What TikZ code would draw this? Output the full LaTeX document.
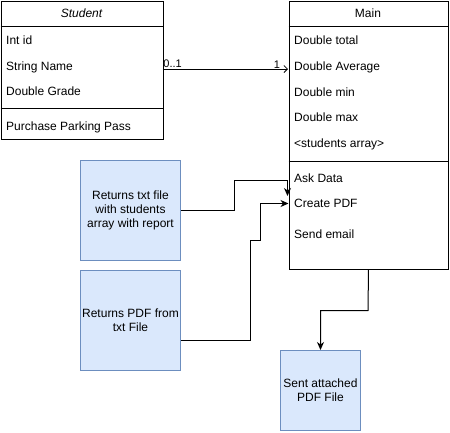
\documentclass[tikz,border=0pt]{standalone}
\usepackage{fontspec}
\setmainfont{Liberation Sans}
\usetikzlibrary{arrows.meta}
\definecolor{notefill}{HTML}{DAE8FC}
\definecolor{noteborder}{HTML}{6C8EBF}
\begin{document}
\begin{tikzpicture}[x=1pt,y=-1pt,
  classbox/.style={draw=black, line width=1pt, inner sep=0pt, anchor=north west},
  note/.style={draw=noteborder, fill=notefill, line width=1pt, inner sep=0pt,
    minimum width=100pt, minimum height=100pt, align=center,
    font=\fontsize{12}{14}\selectfont},
  attr/.style={anchor=base west, inner sep=0pt, font=\fontsize{12}{14}\selectfont},
  title/.style={inner sep=0pt, font=\fontsize{12}{14}\selectfont},
  mult/.style={inner sep=0.5pt, font=\fontsize{11}{13}\selectfont},
  rule/.style={line width=1pt},
  wire/.style={line width=1pt, -{Stealth[length=8pt,width=7pt,inset=2.5pt]}},
  assoc/.style={line width=0.8pt, -{Straight Barb[length=3.5pt,width=7pt]}}]
\useasboundingbox (0,0) rectangle (450,432);

% Student class
\node[classbox, minimum width=162pt, minimum height=138pt] (student) at (0.5,0.5) {};
\draw[rule] (0.5,26) -- (162.5,26);
\draw[rule] (0.5,108) -- (162.5,108);
\node[title] (stitle) at (81.5,13.5) {\itshape Student};
\node[attr] (sid) at (6,44.5) {Int id};
\node[attr] (sname) at (6,70.3) {String Name};
\node[attr] (sgrade) at (6,95.8) {Double Grade};
\node[attr] (spark) at (6,130.5) {Purchase Parking Pass};

% Main class
\node[classbox, minimum width=159pt, minimum height=268pt] (main) at (288.5,0.5) {};
\draw[rule] (288.5,26) -- (447.5,26);
\draw[rule] (288.5,161) -- (447.5,161);
\node[title] (mtitle) at (368,13.5) {Main};
\node[attr] (mtotal) at (294,44.5) {Double total};
\node[attr] (mavg) at (294,70.3) {Double Average};
\node[attr] (mmin) at (294,96) {Double min};
\node[attr] (mmax) at (294,121.5) {Double max};
\node[attr] (marr) at (294,147.5) {<students array>};
\node[attr] (mask) at (294,182) {Ask Data};
\node[attr] (mpdf) at (294,207.5) {Create PDF};
\node[attr] (mmail) at (294,238) {Send email};

% Notes
\node[note] (b1) at (130.5,210.5) {Returns txt file\\with students\\array with report};
\node[note] (b2) at (130.5,320.5) {Returns PDF from\\txt File};
\node[note, minimum width=80pt, minimum height=80pt] (b3) at (320.5,390.5) {Sent attached\\PDF File};

% Association Student -> Main
\coordinate (sa) at (162.5,69);
\coordinate (ma) at (288,69);
\draw[assoc] (sa) -- (ma)
  node[mult, pos=0, anchor=south west] {0..1}
  node[mult, pos=1, anchor=south east, xshift=-7pt] {1};

% Note connectors
\coordinate (askin) at (287.5,196);
\draw[wire] (b1.east) -- (234,210.5) -- (234,180) -- (287.5,180) -- (askin);
\coordinate (pdfin) at (288.5,203.5);
\draw[wire] ([yshift=-20pt]b2.east) -- (250.5,340.5) -- (250.5,240.7) -- (260,240.7)
  -- (260,203.5) -- (pdfin);
\draw[wire] (main.south) -- (368,310.5) -- (320.5,310.5) -- (b3.north);
\end{tikzpicture}
\end{document}
